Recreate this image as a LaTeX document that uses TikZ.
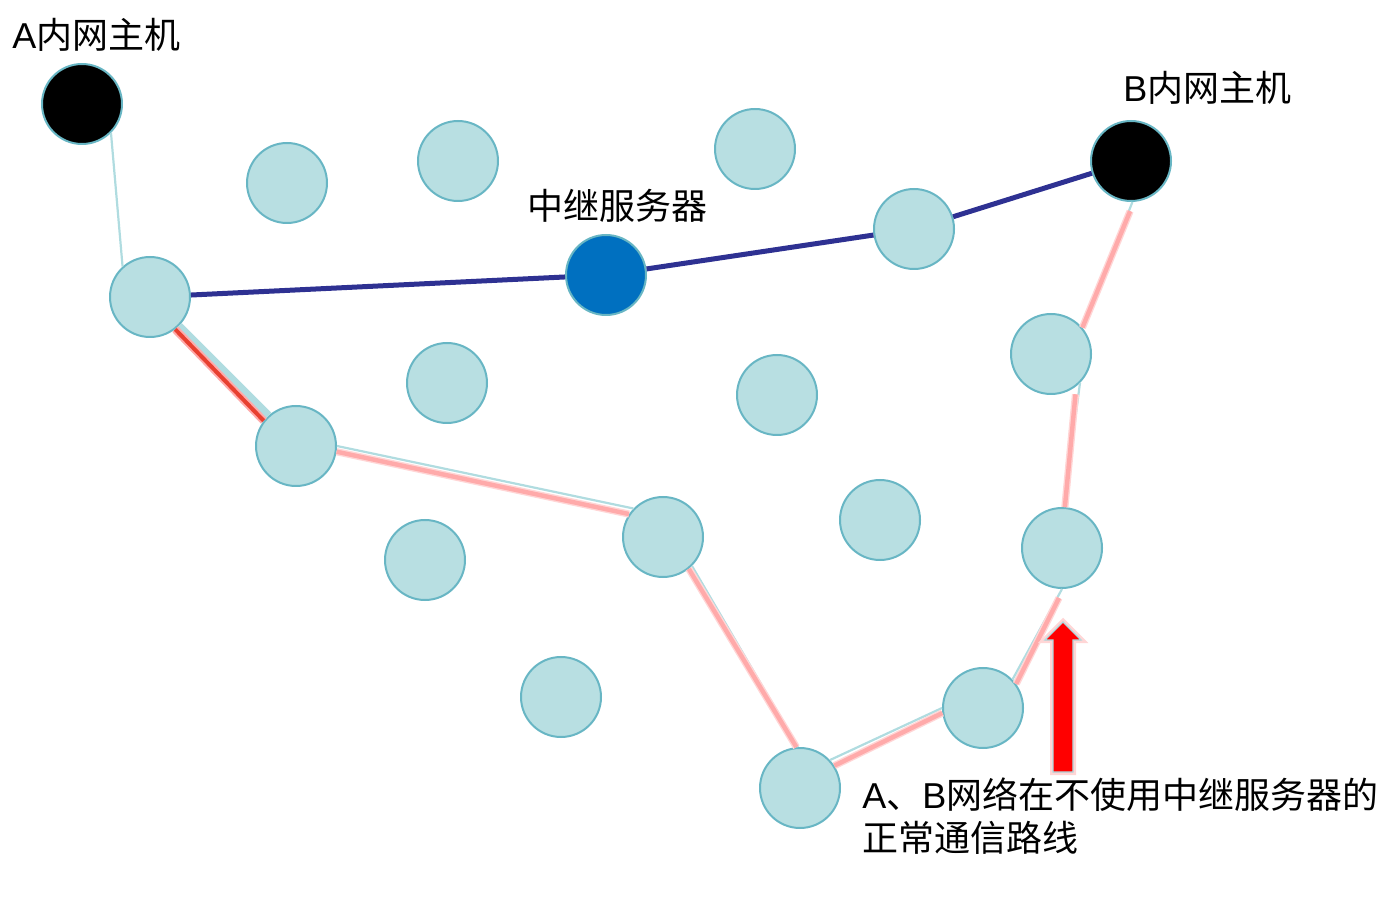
\documentclass[tikz,border=0pt]{standalone}
\usepackage{fontspec}
\setmainfont{Liberation Sans}
\newfontfamily\cjk{Noto Sans CJK SC}
\usetikzlibrary{arrows,shapes}

\definecolor{peerfill}{RGB}{184,223,226}
\definecolor{peerline}{RGB}{104,182,196}
\definecolor{linkblue}{RGB}{176,220,224}
\definecolor{glowpink}{RGB}{255,170,170}
\definecolor{haze}{RGB}{255,214,214}
\definecolor{tunnelblue}{RGB}{46,49,146}
\definecolor{relayblue}{RGB}{0,112,192}
\definecolor{hopred}{RGB}{232,64,48}

\begin{document}
\begin{tikzpicture}[x=0.5pt,y=-0.5pt,font=\fontsize{18}{21.5}\selectfont]

  \tikzstyle{peer}=[circle,draw=peerline,line width=1pt,fill=peerfill,minimum size=40pt,inner sep=0pt]
  \tikzstyle{host}=[peer,fill=black]
  \tikzstyle{relay}=[peer,fill=relayblue]
  \tikzstyle{link}=[draw=linkblue,line width=1.1pt]
  \tikzstyle{glow}=[draw=glowpink,line width=2.2pt,
                    preaction={draw=haze,line width=3.6pt}]
  \tikzstyle{tunnel}=[draw=tunnelblue,line width=2.5pt]
  \tikzstyle{caption}=[inner sep=0pt,anchor=west,align=left]

  \useasboundingbox (0,0) rectangle (1392,924);

  \path (82,104)   node[host]  (A)  {}
        (1131,161) node[host]  (B)  {}
        (606,275)  node[relay] (relay) {}
        (150,297)  node[peer]  (n1) {}
        (296,446)  node[peer]  (n2) {}
        (663,537)  node[peer]  (n3) {}
        (800,788)  node[peer]  (n4) {}
        (983,708)  node[peer]  (n5) {}
        (1062,548) node[peer]  (n6) {}
        (1051,354) node[peer]  (n7) {}
        (914,229)  node[peer]  (n8) {}
        (287,183)  node[peer]  (s1) {}
        (458,161)  node[peer]  (s2) {}
        (755,149)  node[peer]  (s3) {}
        (447,383)  node[peer]  (s4) {}
        (777,395)  node[peer]  (s5) {}
        (880,520)  node[peer]  (s6) {}
        (425,560)  node[peer]  (s7) {}
        (561,697)  node[peer]  (s8) {};

  \draw[link] (A.-45) -- (n1.132);
  \draw[link,line width=4pt] (n1.-45) -- (n2.132);
  \draw[link] (n2.0) -- (n3.136);
  \draw[link] (n3.-45) -- (n4.93);
  \draw[link] (n4.43) -- (n5.180);
  \draw[link] (n5.44) -- (n6.-90);
  \draw[link] (n6.88) -- (n7.-45);
  \draw[link] (n7.40) -- (B.-88);

  \draw[glow,line width=4pt] (n1.-52) -- (n2.142);
  \draw[hopred,line width=2pt] (n1.-52) -- (n2.142);
  \draw[glow] (n2.-8) -- (n3.146);
  \draw[glow] (n3.-51) -- (n4.95);
  \draw[glow] (n4.33) -- (n5.187);
  \draw[glow,shorten >=5pt] (n5.36) -- (n6.-88);
  \draw[glow,shorten >=4pt] (n6.86) -- (n7.-52);
  \draw[glow,shorten >=5pt] (n7.40) -- (B.-86);

  \draw[tunnel] (n1) -- (relay) -- (n8) -- (B);

  \coordinate (tip) at (1063,622);
  \draw[haze,line width=3pt,fill=red]
    (tip) -- ++(18,18) -- ++(-8,0) -- ++(0,132) -- ++(-20,0) -- ++(0,-132) -- ++(-8,0) -- cycle;
  \draw[linkblue,line width=0.6pt,fill=red]
    (tip) -- ++(18,18) -- ++(-8,0) -- ++(0,132) -- ++(-20,0) -- ++(0,-132) -- ++(-8,0) -- cycle;

  \node[caption] (labelA) at (12,35) {A{\cjk 内网主机}};
  \node[caption] (labelB) at (1123,88) {B{\cjk 内网主机}};
  \node[caption] (labelR) at (527,206) {{\cjk 中继服务器}};
  \node[caption] (note) at (862,816) {A{\cjk 、}B{\cjk 网络在不使用中继服务器的}\\{\cjk 正常通信路线}};

\end{tikzpicture}
\end{document}
